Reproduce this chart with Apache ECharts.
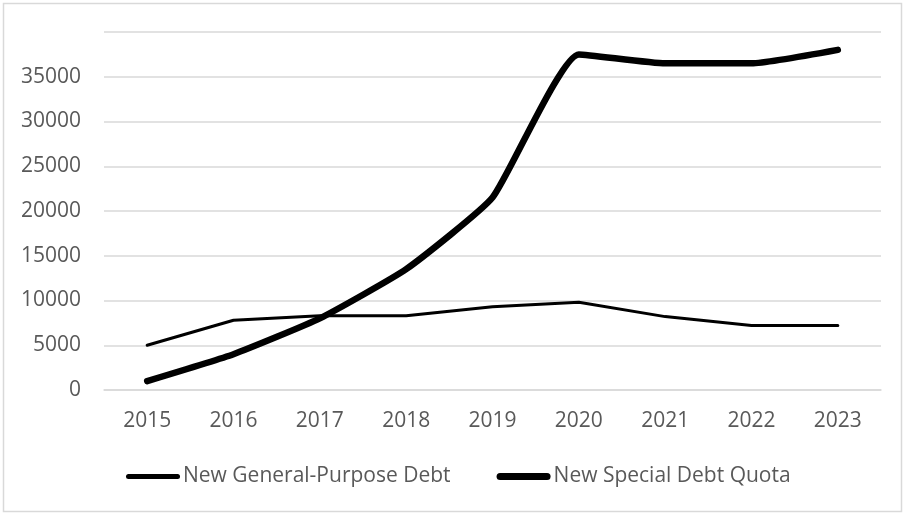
<!DOCTYPE html>
<html>
<head>
<meta charset="utf-8">
<script src="https://cdn.jsdelivr.net/npm/echarts@6/dist/echarts.min.js"></script>
<style>
  html, body { margin: 0; padding: 0; background: #fff; }
  #chart { width: 906px; height: 514px; }
</style>
</head>
<body>
<div id="chart"></div>
<script>
var years = ['2015', '2016', '2017', '2018', '2019', '2020', '2021', '2022', '2023'];
var generalDebt = [5000, 7800, 8300, 8300, 9300, 9800, 8200, 7200, 7200];
var specialDebt = [1000, 4000, 8000, 13500, 21500, 37500, 36500, 36500, 38000];

var myChart = echarts.init(document.getElementById('chart'));
var font = '"Open Sans", "Noto Sans", sans-serif';

// legend icons: flat bars with round ends, thin and thick
var thinIcon = 'path://M2.5,0 H51.5 A2.5,2.5 0 0 1 51.5,5 H2.5 A2.5,2.5 0 0 1 2.5,0 Z';
var thickIcon = 'path://M3.5,0 H50.5 A3.5,3.5 0 0 1 50.5,7 H3.5 A3.5,3.5 0 0 1 3.5,0 Z';

var option = {
    backgroundColor: '#fff',
    graphic: [{
        type: 'rect',
        shape: { x: 3.5, y: 3.5, width: 898, height: 508 },
        style: { fill: 'none', stroke: '#d9d9d9', lineWidth: 1.5 }
    }],
    grid: { left: 104, right: 25, top: 32, bottom: 124 },
    legend: {
        top: 461,
        left: 121,
        itemWidth: 54,
        itemHeight: 14,
        itemGap: 46,
        textStyle: { fontFamily: font, fontSize: 21, color: '#595959', padding: [0, 0, 0, -2] },
        data: [
            { name: 'New General-Purpose Debt', icon: thinIcon },
            { name: 'New Special Debt Quota', icon: thickIcon }
        ]
    },
    xAxis: {
        type: 'category',
        data: years,
        axisLine: { lineStyle: { color: '#d9d9d9', width: 1.5 } },
        axisTick: { show: false },
        axisLabel: { fontFamily: font, fontSize: 21, color: '#595959', margin: 21 }
    },
    yAxis: {
        type: 'value',
        min: 0,
        max: 40000,
        interval: 5000,
        axisLine: { show: false },
        axisTick: { show: false },
        splitLine: { lineStyle: { color: '#d9d9d9', width: 1.5 } },
        axisLabel: {
            fontFamily: font, fontSize: 21, color: '#595959', margin: 23,
            formatter: function (v) { return v === 40000 ? '' : String(v); }
        }
    },
    series: [
        {
            name: 'New General-Purpose Debt',
            type: 'line',
            data: generalDebt,
            symbol: 'none',
            lineStyle: { color: '#000', width: 3, cap: 'round', join: 'round' },
            itemStyle: { color: '#000' }
        },
        {
            name: 'New Special Debt Quota',
            type: 'line',
            data: specialDebt,
            symbol: 'none',
            smooth: 0.15,
            lineStyle: { color: '#000', width: 6.5, cap: 'round', join: 'round' },
            itemStyle: { color: '#000' }
        }
    ]
};

myChart.setOption(option);
</script>
</body>
</html>
